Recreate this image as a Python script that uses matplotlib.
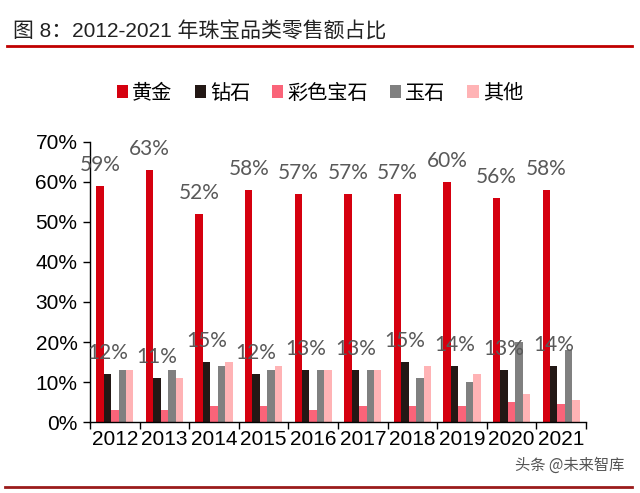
import numpy as np
import matplotlib
matplotlib.use("Agg")
from matplotlib import pyplot as plt
from matplotlib.patches import Patch
from matplotlib.lines import Line2D
from matplotlib.ticker import FixedLocator, PercentFormatter

plt.rcParams["font.family"] = ["Liberation Sans", "Noto Sans CJK SC", "DejaVu Sans"]

years = ["2012", "2013", "2014", "2015", "2016", "2017", "2018", "2019", "2020", "2021"]
series_names = ["黄金", "钻石", "彩色宝石", "玉石", "其他"]
gold = [59, 63, 52, 58, 57, 57, 57, 60, 56, 58]
diamond = [12, 11, 15, 12, 13, 13, 15, 14, 13, 14]
gem = [3, 3, 4, 4, 3, 4, 4, 4, 5, 4.5]
jade = [13, 13, 14, 13, 13, 13, 11, 10, 20, 18]
other = [13, 11, 15, 14, 13, 13, 14, 12, 7, 5.5]

colors = ["#D5000F", "#231815", "#FA6479", "#808080", "#FFB3B5"]
cjk = ["Noto Sans CJK SC", "DejaVu Sans"]

fig = plt.figure(figsize=(6.4, 4.93), dpi=100)
ax = fig.add_axes([0.1406, 0.144, 0.775, 0.568])

x = np.arange(len(years))
bw = 0.15
all_series = [gold, diamond, gem, jade, other]
for i, (vals, c) in enumerate(zip(all_series, colors)):
    ax.bar(x + (i - 2) * bw, np.array(vals) / 100, width=bw, color=c, linewidth=0)

# value labels for gold and diamond
for xi, v in zip(x, gold):
    ax.annotate(f"{v:.0f}%", (xi - 2 * bw, v / 100), xytext=(0, 8), textcoords="offset points",
                ha="center", va="bottom", fontsize=15, color="#595959", family="Lato")
for xi, v in zip(x, diamond):
    ax.annotate(f"{v:.0f}%", (xi - bw, v / 100), xytext=(0, 8), textcoords="offset points",
                ha="center", va="bottom", fontsize=15, color="#595959", family="Lato")

ax.set_xlim(-0.5, len(years) - 0.5)
ax.set_ylim(0, 0.7)
ax.yaxis.set_major_locator(FixedLocator(np.arange(0, 0.71, 0.1)))
ax.yaxis.set_major_formatter(PercentFormatter(1.0, decimals=0))
ax.set_xticks(x)
ax.set_xticklabels(years)
ax.xaxis.set_minor_locator(FixedLocator(np.arange(-0.5, len(years), 1.0)))
ax.tick_params(axis="x", which="major", length=0, labelsize=15, pad=6, colors="black")
ax.tick_params(axis="x", which="minor", length=5, width=1, direction="out")
ax.tick_params(axis="y", length=5, width=1, labelsize=15, pad=4)
for s in ["top", "right"]:
    ax.spines[s].set_visible(False)
for s in ["left", "bottom"]:
    ax.spines[s].set_color("black")
    ax.spines[s].set_linewidth(1)

handles = [Patch(facecolor=c, edgecolor="none") for c in colors]
leg = fig.legend(handles, series_names, loc="center", bbox_to_anchor=(0.5, 0.811), ncol=5,
                 frameon=False, handlelength=0.55, handleheight=0.55, handletextpad=0.2,
                 columnspacing=1.1, prop={"family": cjk, "size": 14.5})

# title and rules
fig.text(0.02, 0.937, "图 8：2012-2021 年珠宝品类零售额占比", fontsize=15, color="#222222",
         family=["Liberation Sans", "Noto Sans CJK SC"], va="center", ha="left")
fig.add_artist(Line2D([0.011, 0.988], [0.906, 0.906], color="#C00000", linewidth=2,
                      transform=fig.transFigure))
fig.add_artist(Line2D([0.008, 0.988], [0.012, 0.012], color="#9B1B1B", linewidth=2,
                      transform=fig.transFigure))
fig.text(0.975, 0.057, "头条 @未来智库", fontsize=11, color="#555555", family=cjk,
         ha="right", va="center")

fig.savefig("out.png", dpi=100)
